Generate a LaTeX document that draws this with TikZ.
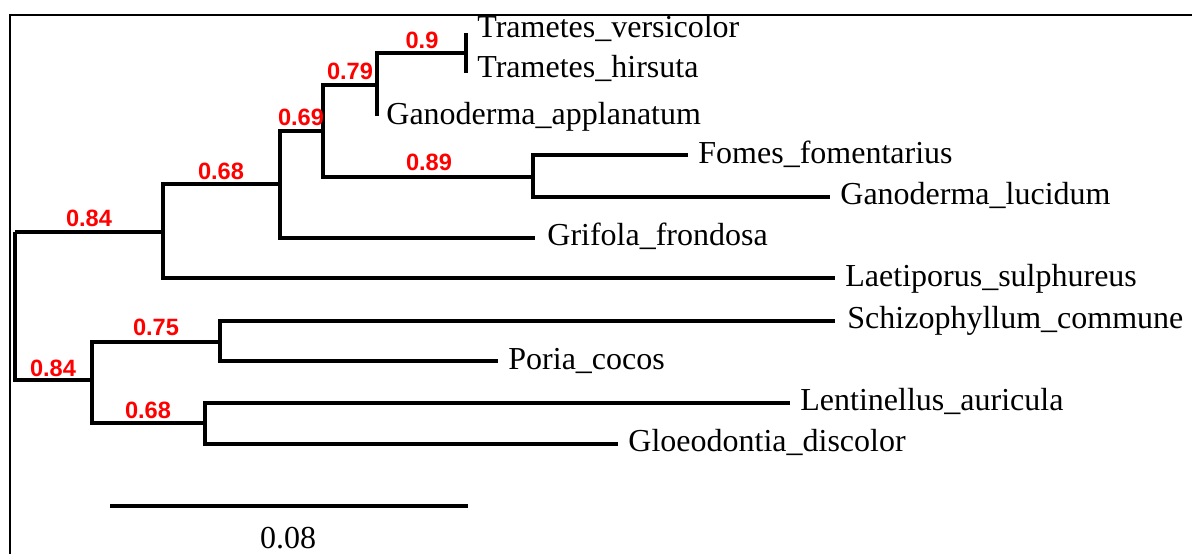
\documentclass[tikz,border=0pt]{standalone}
\usepackage{fontspec}
\setmainfont{Liberation Serif}
\newfontfamily\labfont{Liberation Sans}
\begin{document}
\begin{tikzpicture}[x=0.5pt,y=-0.5pt,
  edge/.style={line width=1.6pt},
  leaf/.style={anchor=base west, inner sep=0pt, font=\rmfamily\fontsize{16}{19}\selectfont},
  boot/.style={inner sep=0pt, text=red, font=\labfont\bfseries\fontsize{11.8}{14}\selectfont},
  frameline/.style={line width=1pt}]
\useasboundingbox (0,0) rectangle (1192,554);
% frame
\coordinate (fb) at (10,554);
\coordinate (fc) at (10,15);
\coordinate (fr) at (1192,15);
\draw[frameline] (fb) -- (fc) -- (fr);
% internal nodes
\coordinate (R) at (15,232);
\coordinate (U) at (163,232);
\coordinate (A) at (280,184);
\coordinate (B) at (323,131);
\coordinate (C) at (377,85);
\coordinate (D) at (466,53);
\coordinate (E) at (533,177);
\coordinate (L) at (92,380);
\coordinate (F) at (220,342);
\coordinate (G) at (205,423);
% leaf tips
\coordinate (tv) at (466,33);
\coordinate (th) at (466,73);
\coordinate (ga) at (377,116);
\coordinate (ff) at (688,155);
\coordinate (gl) at (830,197);
\coordinate (gf) at (535,238);
\coordinate (ls) at (835,278);
\coordinate (sc) at (835,321);
\coordinate (pc) at (498,361);
\coordinate (la) at (790,403);
\coordinate (gd) at (618,444);
% edges
\draw[edge] (R) |- (U);
\draw[edge] (R) |- (L);
\draw[edge] (U) |- (A);
\draw[edge] (U) |- (ls);
\draw[edge] (A) |- (B);
\draw[edge] (A) |- (gf);
\draw[edge] (B) |- (C);
\draw[edge] (B) |- (E);
\draw[edge] (C) |- (D);
\draw[edge] (C) |- (ga);
\draw[edge] (D) |- (tv);
\draw[edge] (D) |- (th);
\draw[edge] (E) |- (ff);
\draw[edge] (E) |- (gl);
\draw[edge] (L) |- (F);
\draw[edge] (L) |- (G);
\draw[edge] (F) |- (sc);
\draw[edge] (F) |- (pc);
\draw[edge] (G) |- (la);
\draw[edge] (G) |- (gd);
% leaf labels
\node[leaf] (ntv) at (477,37) {Trametes\_versicolor};
\node[leaf] (nth) at (477,77) {Trametes\_hirsuta};
\node[leaf] (nga) at (386,124) {Ganoderma\_applanatum};
\node[leaf] (nff) at (698,163) {Fomes\_fomentarius};
\node[leaf] (ngl) at (840,204) {Ganoderma\_lucidum};
\node[leaf] (ngf) at (547,245) {Grifola\_frondosa};
\node[leaf] (nls) at (845,286) {Laetiporus\_sulphureus};
\node[leaf] (nsc) at (847,328) {Schizophyllum\_commune};
\node[leaf] (npc) at (508,369) {Poria\_cocos};
\node[leaf] (nla) at (800,410) {Lentinellus\_auricula};
\node[leaf] (ngd) at (628,451) {Gloeodontia\_discolor};
% bootstrap values
\node[boot] (bD) at (422,40) {0.9};
\node[boot] (bC) at (350,71) {0.79};
\node[boot] (bB) at (301,117) {0.69};
\node[boot] (bA) at (221,171) {0.68};
\node[boot] (bU) at (89,218) {0.84};
\node[boot] (bE) at (429,162) {0.89};
\node[boot] (bF) at (156,327) {0.75};
\node[boot] (bL) at (53,368) {0.84};
\node[boot] (bG) at (148,410) {0.68};
% scale bar
\coordinate (s1) at (110,506);
\coordinate (s2) at (468,506);
\draw[line width=1.7pt] (s1) -- (s2);
\node[anchor=base, inner sep=0pt, font=\rmfamily\fontsize{16}{19}\selectfont] (sl) at (288,548) {0.08};
\end{tikzpicture}
\end{document}
